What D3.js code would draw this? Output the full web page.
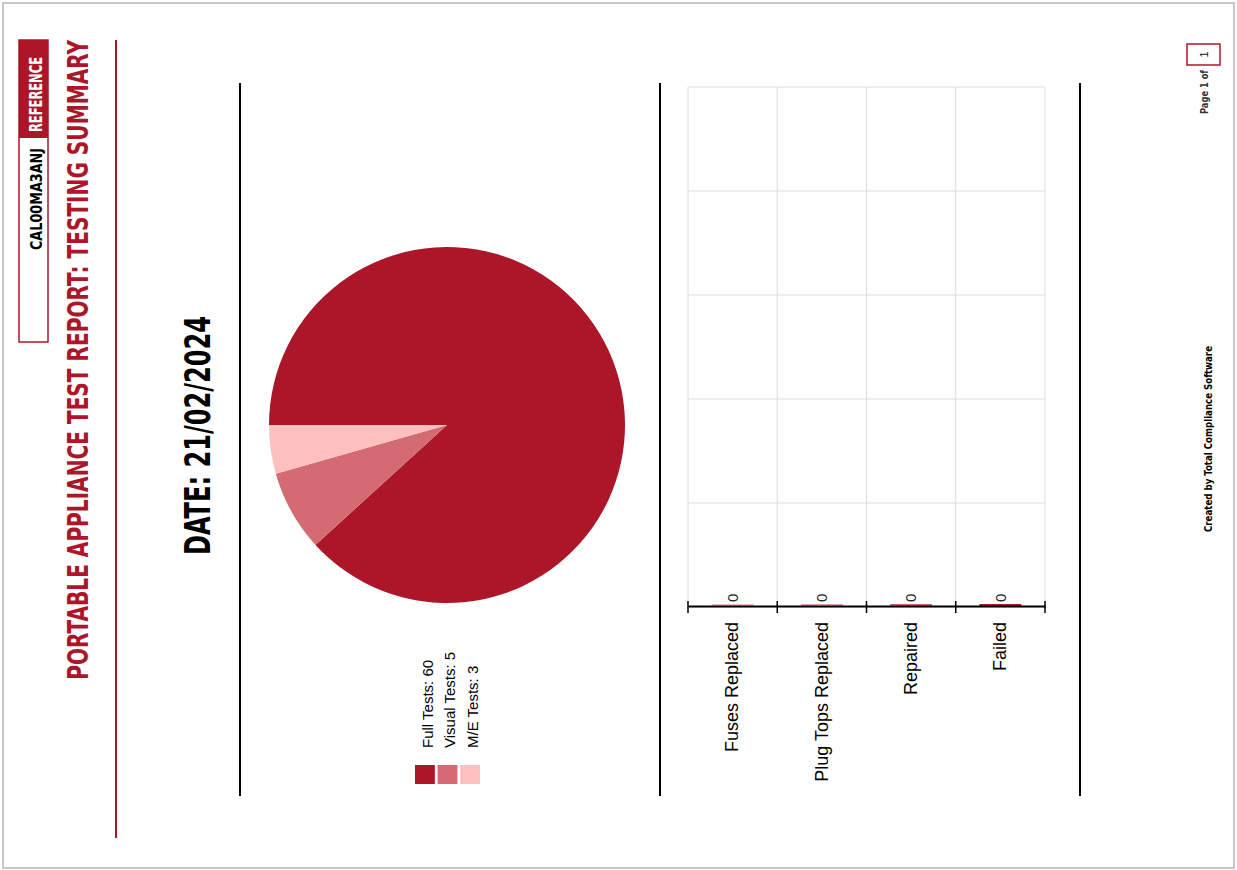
<!DOCTYPE html>
<html>
<head>
<meta charset="utf-8">
<script src="https://cdn.jsdelivr.net/npm/d3@7"></script>
<style>
    body { margin: 0; background: #fff; overflow: hidden; }
    .narrow { font-family: "Liberation Sans Narrow", "DejaVu Sans Condensed", "Liberation Sans", sans-serif; font-weight: bold; font-stretch: condensed; }
    .plain { font-family: "Liberation Sans", Arial, sans-serif; }
</style>
</head>
<body>
<div id="page"></div>
<script>
// Data_____________________________________________________
const pieLabels = ['Full Tests', 'Visual Tests', 'M/E Tests'];
const pieValues = [60, 5, 3];
const pieColors = ['#ab1729', '#d46a72', '#ffbfbf'];

const barCategories = ['Fuses Replaced', 'Plug Tops Replaced', 'Repaired', 'Failed'];
const barValues = [0, 0, 0, 0];
const barColors = ['#f2b3b8', '#e89aa2', '#d4606a', '#ab1729'];

const reportTitle = 'PORTABLE APPLIANCE TEST REPORT: TESTING SUMMARY';
const reference = 'CAL00MA3ANJ';
const reportDate = 'DATE: 21/02/2024';

// Page setup (portrait page, turned on its side)_____________
const pageW = 870;
const pageH = 1237;
const red = '#ab1729';

const svg = d3.select('#page')
    .append('svg')
    .attr('width', pageH)
    .attr('height', pageW);

const page = svg.append('g')
    .attr('transform', `translate(0, ${pageW}) rotate(-90)`);

page.append('rect')
    .attr('x', 2).attr('y', 3)
    .attr('width', 865).attr('height', 1231)
    .attr('fill', '#fff')
    .attr('stroke', '#c8c8c8')
    .attr('stroke-width', 2);

// Header_____________________________________________________
page.append('rect')
    .attr('x', 528).attr('y', 19)
    .attr('width', 302).attr('height', 29)
    .attr('fill', '#fff')
    .attr('stroke', red)
    .attr('stroke-width', 1.5);
page.append('rect')
    .attr('x', 732).attr('y', 19)
    .attr('width', 98).attr('height', 29)
    .attr('fill', red);
page.append('text')
    .attr('class', 'narrow')
    .attr('x', 738).attr('y', 42)
    .attr('font-size', 18)
    .attr('fill', '#fff')
    .attr('textLength', 75)
    .attr('lengthAdjust', 'spacingAndGlyphs')
    .text('REFERENCE');
page.append('text')
    .attr('class', 'narrow')
    .attr('x', 620).attr('y', 42)
    .attr('font-size', 16)
    .attr('fill', '#000')
    .attr('textLength', 102)
    .attr('lengthAdjust', 'spacingAndGlyphs')
    .text(reference);

// title: shrink the face to fit 640px, then stretch it back up to the tall narrow look
const titleLen = 640;
const titleSize = 29;
const title = page.append('text')
    .attr('class', 'narrow')
    .attr('text-anchor', 'end')
    .attr('font-size', titleSize)
    .attr('fill', red)
    .text(reportTitle);
const squeeze = Math.min(1, titleLen / title.node().getComputedTextLength());
title
    .attr('font-size', titleSize * squeeze)
    .attr('transform', `translate(830, 88) scale(1, ${1 / squeeze})`);

page.append('line')
    .attr('x1', 32).attr('x2', 830)
    .attr('y1', 116).attr('y2', 116)
    .attr('stroke', red)
    .attr('stroke-width', 2);

page.append('text')
    .attr('class', 'narrow')
    .attr('x', 434.5).attr('y', 210)
    .attr('text-anchor', 'middle')
    .attr('font-size', 36)
    .attr('fill', '#000')
    .attr('textLength', 239)
    .attr('lengthAdjust', 'spacingAndGlyphs')
    .text(reportDate);

// Separators
page.selectAll('.sep')
    .data([240, 660, 1080])
    .join('line')
    .attr('class', 'sep')
    .attr('x1', 74).attr('x2', 787)
    .attr('y1', d => d).attr('y2', d => d)
    .attr('stroke', '#000')
    .attr('stroke-width', 2);

// Pie chart__________________________________________________
const pie = d3.pie().sort(null).value(d => d);
const arc = d3.arc().innerRadius(0).outerRadius(178);

page.append('g')
    .attr('transform', 'translate(445, 447)')
    .selectAll('path')
    .data(pie(pieValues))
    .join('path')
    .attr('d', arc)
    .attr('fill', (d, i) => pieColors[i]);

// Legend
const legendY = d3.scaleBand()
    .domain(pieLabels)
    .range([415, 480])
    .paddingInner(0.12);

const legend = page.append('g');
legend.selectAll('rect')
    .data(pieLabels)
    .join('rect')
    .attr('x', 86)
    .attr('y', d => legendY(d))
    .attr('width', 19)
    .attr('height', legendY.bandwidth())
    .attr('fill', (d, i) => pieColors[i]);
legend.selectAll('text')
    .data(pieLabels)
    .join('text')
    .attr('class', 'plain')
    .attr('x', 122)
    .attr('y', d => legendY(d) + legendY.bandwidth() - 2)
    .attr('font-size', 15)
    .attr('fill', '#000')
    .text((d, i) => `${d}: ${pieValues[i]}`);

// Bar chart__________________________________________________
const yScale = d3.scaleBand()
    .domain(barCategories)
    .range([688, 1045]);
const xScale = d3.scaleLinear()
    .domain([0, 5])
    .range([263, 783]);

const grid = page.append('g')
    .attr('stroke', '#dcdcdc')
    .attr('stroke-width', 1);
grid.selectAll('.vgrid')
    .data(xScale.ticks(5))
    .join('line')
    .attr('class', 'vgrid')
    .attr('x1', d => xScale(d)).attr('x2', d => xScale(d))
    .attr('y1', 688).attr('y2', 1045);
grid.selectAll('.hgrid')
    .data(barCategories.map(c => yScale(c)).concat([1045]))
    .join('line')
    .attr('class', 'hgrid')
    .attr('x1', 263).attr('x2', 783)
    .attr('y1', d => d).attr('y2', d => d);

// zero bars still show as a thin strip
const barH = yScale.bandwidth() * 0.47;
page.append('g')
    .selectAll('rect')
    .data(barValues)
    .join('rect')
    .attr('x', xScale(0) + 1)
    .attr('y', (d, i) => yScale(barCategories[i]) + (yScale.bandwidth() - barH) / 2)
    .attr('width', d => Math.max(xScale(d) - xScale(0), 2))
    .attr('height', barH)
    .attr('fill', (d, i) => barColors[i]);

const yAxis = d3.axisLeft(yScale)
    .tickSize(0)
    .tickPadding(15);
const axisG = page.append('g')
    .attr('transform', `translate(${xScale(0)}, 0)`)
    .call(yAxis);
axisG.select('.domain')
    .attr('stroke', '#000')
    .attr('stroke-width', 2);
axisG.selectAll('text')
    .attr('class', 'plain')
    .attr('font-size', 18)
    .attr('fill', '#000');

// ticks on the band edges
page.selectAll('.edge')
    .data(barCategories.map(c => yScale(c)).concat([1045]))
    .join('line')
    .attr('class', 'edge')
    .attr('x1', xScale(0) - 6).attr('x2', xScale(0) + 6)
    .attr('y1', d => d).attr('y2', d => d)
    .attr('stroke', '#000')
    .attr('stroke-width', 1.5);

page.append('g')
    .selectAll('text')
    .data(barValues)
    .join('text')
    .attr('class', 'plain')
    .attr('x', d => xScale(d) + 5)
    .attr('y', (d, i) => yScale(barCategories[i]) + yScale.bandwidth() / 2)
    .attr('dy', '0.35em')
    .attr('font-size', 15)
    .attr('fill', '#222')
    .text(d => d);

// Footer_____________________________________________________
page.append('rect')
    .attr('x', 805).attr('y', 1187)
    .attr('width', 21).attr('height', 33)
    .attr('fill', '#fff')
    .attr('stroke', red)
    .attr('stroke-width', 1.5);
page.append('text')
    .attr('class', 'plain')
    .attr('x', 815.5).attr('y', 1208)
    .attr('text-anchor', 'middle')
    .attr('font-size', 11)
    .attr('fill', '#111')
    .text('1');
page.append('text')
    .attr('class', 'narrow')
    .attr('x', 800).attr('y', 1208)
    .attr('text-anchor', 'end')
    .attr('font-size', 10)
    .attr('fill', '#333')
    .attr('textLength', 44)
    .attr('lengthAdjust', 'spacingAndGlyphs')
    .text('Page 1 of');
page.append('text')
    .attr('class', 'narrow')
    .attr('x', 431).attr('y', 1212)
    .attr('text-anchor', 'middle')
    .attr('font-size', 11)
    .attr('fill', '#000')
    .attr('textLength', 186)
    .attr('lengthAdjust', 'spacingAndGlyphs')
    .text('Created by Total Compliance Software');
</script>
</body>
</html>
